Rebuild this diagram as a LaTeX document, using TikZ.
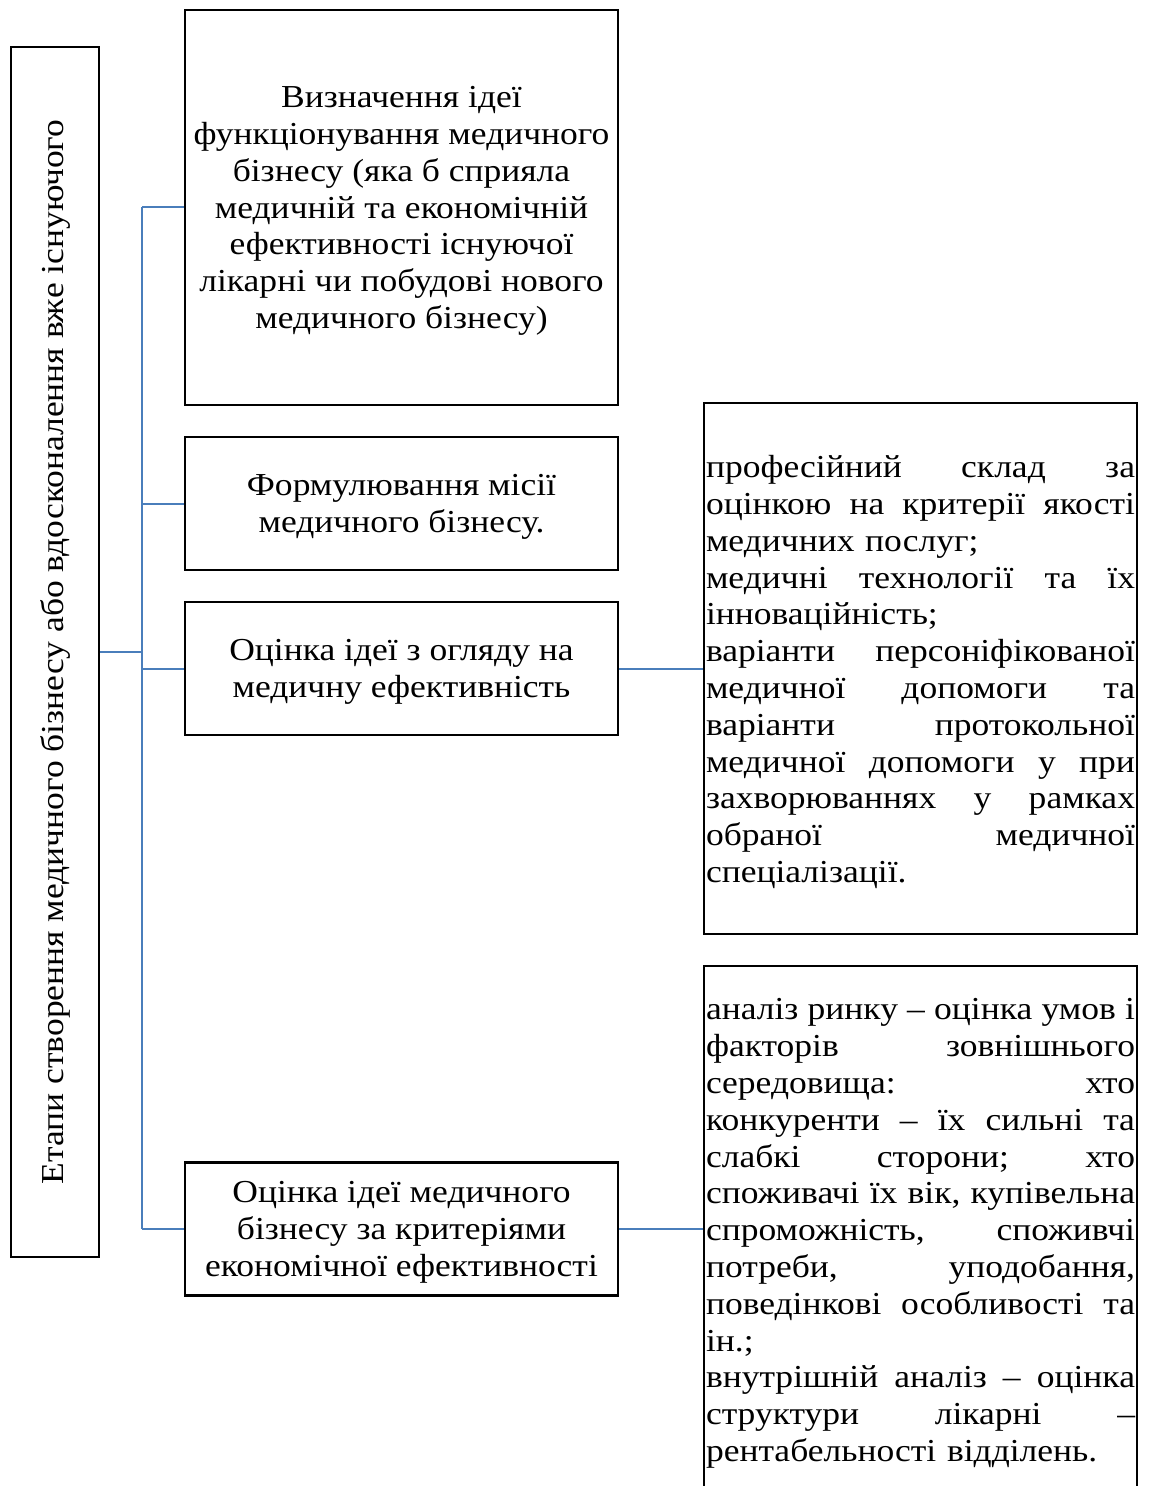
\documentclass[tikz,border=0pt]{standalone}
\usepackage{fontspec}
\setmainfont{Liberation Serif}[FakeStretch=1.11]
\definecolor{linkblue}{HTML}{4A7EBB}
\newcommand\myJ[1]{\makebox[214.5pt][l]{#1}}
\begin{document}
\begin{tikzpicture}[x=0.5pt,y=-0.5pt,
  txt/.style={font=\fontsize{16}{18.4}\selectfont, inner sep=0pt, yshift=-1.75pt},
  box/.style={draw=black, line width=1.3pt, inner sep=0pt},
  stagebox/.style={box, minimum width=216.5pt},
  stagetext/.style={txt, align=center},
  listtext/.style={txt, text width=214.5pt, align=left},
  conn/.style={draw=linkblue, line width=1pt}]
\useasboundingbox (0,0) rectangle (1151,1486);
\clip (0,0) rectangle (1151,1486);
\fill[white] (0,0) rectangle (1151,1486);

\node[box, rotate=90, minimum width=605pt, minimum height=44pt,
      font=\fontsize{16}{18.4}\selectfont] (lb) at (55,652)
  {Етапи створення медичного бізнесу або вдосконалення вже існуючого};

\node[stagebox, minimum height=197.5pt] (b1) at (401.5,207.5) {};
\node[stagetext] (b1t) at (b1.center)
  {Визначення ідеї\\функціонування медичного\\бізнесу (яка б сприяла\\медичній та економічній\\ефективності існуючої\\лікарні чи побудові нового\\медичного бізнесу)};
\node[stagebox, minimum height=66.5pt] (b2) at (401.5,503.5) {};
\node[stagetext] (b2t) at (b2.center)
  {Формулювання місії\\медичного бізнесу.};
\node[stagebox, minimum height=66.5pt] (b3) at (401.5,668.5) {};
\node[stagetext] (b3t) at (b3.center)
  {Оцінка ідеї з огляду на\\медичну ефективність};
\node[stagebox, minimum height=66.5pt] (b4) at (401.5,1229) {};
\node[stagetext] (b4t) at (b4.center)
  {Оцінка ідеї медичного\\бізнесу за критеріями\\економічної ефективності};

\node[stagebox, minimum height=265.5pt] (ra) at (920.5,668.5) {};
\node[listtext] (rat) at (ra.center)
  {\myJ{професійний\hfill склад\hfill за}\\
   \myJ{оцінкою\hfill на\hfill критерії\hfill якості}\\
   медичних послуг;\\
   \myJ{медичні\hfill технології\hfill та\hfill їх}\\
   інноваційність;\\
   \myJ{варіанти\hfill персоніфікованої}\\
   \myJ{медичної\hfill допомоги\hfill та}\\
   \myJ{варіанти\hfill протокольної}\\
   \myJ{медичної\hfill допомоги\hfill у\hfill при}\\
   \myJ{захворюваннях\hfill у\hfill рамках}\\
   \myJ{обраної\hfill медичної}\\
   спеціалізації.};
\node[stagebox, minimum height=264pt] (rb) at (920.5,1230) {};
\node[listtext] (rbt) at (rb.center)
  {\myJ{аналіз\hfill ринку\hfill –\hfill оцінка\hfill умов\hfill і}\\
   \myJ{факторів\hfill зовнішнього}\\
   \myJ{середовища:\hfill хто}\\
   \myJ{конкуренти\hfill –\hfill їх\hfill сильні\hfill та}\\
   \myJ{слабкі\hfill сторони;\hfill хто}\\
   \myJ{споживачі\hfill їх\hfill вік,\hfill купівельна}\\
   \myJ{спроможність,\hfill споживчі}\\
   \myJ{потреби,\hfill уподобання,}\\
   \myJ{поведінкові\hfill особливості\hfill та}\\
   ін.;\\
   \myJ{внутрішній\hfill аналіз\hfill –\hfill оцінка}\\
   \myJ{структури\hfill лікарні\hfill –}\\
   рентабельності відділень.};

\coordinate (bus) at (142,652);
\draw[conn] (lb.south) -- (bus);
\draw[conn] (bus |- b1.west) -- (bus |- b4.west);
\draw[conn] (bus |- b1.west) -- (b1.west);
\draw[conn] (bus |- b2.west) -- (b2.west);
\draw[conn] (bus |- b3.west) -- (b3.west);
\draw[conn] (bus |- b4.west) -- (b4.west);
\draw[conn] (b3.east) -- (ra.west);
\draw[conn] (b4.east) -- (rb.west |- b4.east);
\end{tikzpicture}
\end{document}
